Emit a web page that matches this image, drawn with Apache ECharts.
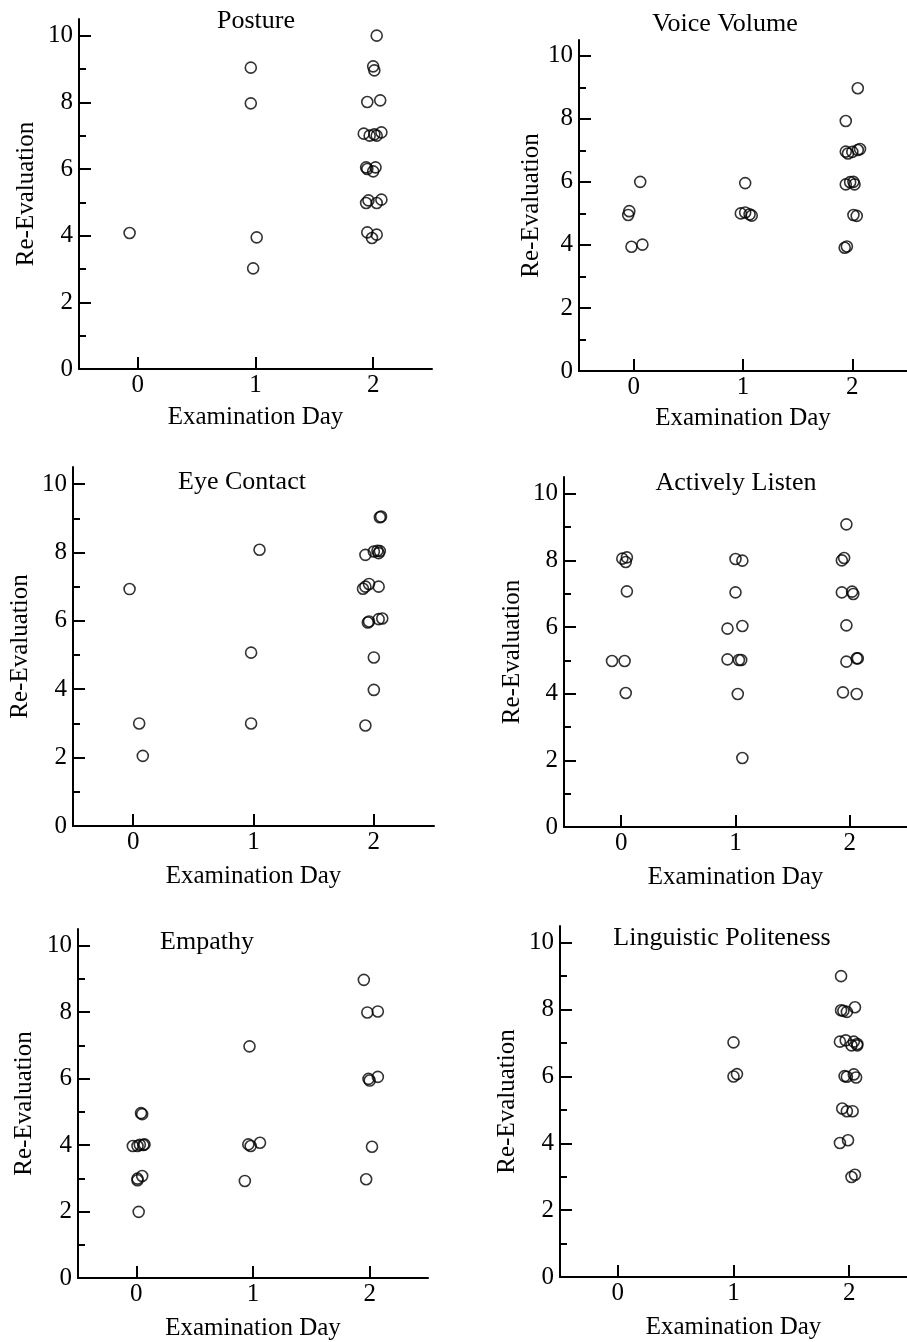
<!DOCTYPE html>
<html>
<head>
<meta charset="utf-8">
<script src="https://cdn.jsdelivr.net/npm/echarts@6/dist/echarts.min.js"></script>
<style>
html,body{margin:0;padding:0;background:#fff;}
#chart{width:907px;height:1342px;}
</style>
</head>
<body>
<div id="chart"></div>
<script>
// ---- data (x = examination day with jitter, y = re-evaluation score) ----
const panelTitles = ['Posture','Voice Volume','Eye Contact','Actively Listen','Empathy','Linguistic Politeness'];
const xTicks = [0, 1, 2];
const yMajorTicks = [0, 2, 4, 6, 8, 10];
const yMinorTicks = [1, 3, 5, 7, 9];
const xAxisTitle = 'Examination Day';
const yAxisTitle = 'Re-Evaluation';

const posture = [
  [-0.07,4.08],
  [0.96,9.04],[0.96,7.97],[1.01,3.95],[0.98,3.02],
  [2.03,10.0],[2.0,9.08],[2.01,8.96],[1.95,8.01],[2.06,8.06],
  [1.92,7.06],[1.97,7.0],[2.01,7.04],[2.03,7.0],[2.07,7.1],
  [1.94,6.05],[1.95,6.0],[2.0,5.93],[2.02,6.05],
  [1.94,4.98],[1.96,5.06],[2.03,4.98],[2.07,5.08],
  [1.95,4.1],[1.99,3.93],[2.03,4.03]
];
const voiceVolume = [
  [0.06,6.0],[-0.04,5.07],[-0.05,4.95],[-0.02,3.94],[0.08,4.01],
  [1.02,5.96],[0.98,5.0],[1.02,5.03],[1.06,4.97],[1.08,4.93],
  [2.05,8.97],[1.94,7.93],[1.94,6.96],[1.96,6.9],[2.0,6.95],[2.05,7.01],[2.07,7.04],
  [1.94,5.92],[1.98,5.99],[2.01,6.0],[2.02,5.92],
  [2.01,4.95],[2.04,4.92],
  [1.93,3.91],[1.95,3.95]
];
const eyeContact = [
  [-0.03,6.93],[0.05,3.0],[0.08,2.05],
  [1.05,8.08],[0.98,5.07],[0.98,3.0],
  [2.06,9.05],[2.05,9.03],
  [1.93,7.93],[2.0,8.03],[2.03,8.05],[2.04,7.98],[2.05,8.04],
  [1.91,6.94],[1.93,7.0],[1.96,7.08],[2.04,7.0],
  [1.95,5.95],[1.96,5.98],[2.04,6.05],[2.07,6.07],
  [2.0,4.93],[2.0,3.98],[1.93,2.94]
];
const activelyListen = [
  [0.01,8.05],[0.05,8.09],[0.04,7.95],[0.05,7.07],[-0.08,4.98],[0.03,4.98],[0.04,4.02],
  [1.0,8.04],[1.06,7.99],[1.0,7.04],[0.93,5.95],[1.06,6.03],[0.93,5.03],[1.03,5.01],[1.05,5.01],[1.02,3.99],[1.06,2.07],
  [1.97,9.08],[1.93,8.0],[1.95,8.07],[1.93,7.04],[2.02,7.06],[2.03,6.99],[1.97,6.05],[1.97,4.96],[2.06,5.06],[2.07,5.06],[1.94,4.04],[2.06,3.99]
];
const empathy = [
  [0.04,4.96],[0.05,4.93],[-0.03,3.97],[0.01,3.97],[0.03,4.01],[0.06,4.0],[0.07,4.02],[0.01,2.99],[0.01,2.94],[0.05,3.07],[0.02,1.99],
  [0.97,6.97],[0.96,4.02],[0.98,3.97],[1.06,4.07],[0.93,2.92],
  [1.95,8.97],[1.98,7.99],[2.07,8.02],[1.99,5.99],[2.0,5.94],[2.07,6.05],[2.02,3.95],[1.97,2.97]
];
const linguisticPoliteness = [
  [1.0,7.02],[1.0,6.0],[1.03,6.07],
  [1.93,9.0],[1.93,7.98],[1.95,7.96],[1.98,7.93],[2.05,8.07],
  [1.92,7.04],[1.97,7.08],[2.02,6.93],[2.04,7.04],[2.07,6.97],[2.07,6.93],
  [1.96,6.01],[1.98,5.99],[2.04,6.06],[2.06,5.97],
  [1.94,5.04],[1.98,4.96],[2.03,4.96],
  [1.92,4.01],[1.99,4.09],
  [2.02,2.99],[2.05,3.06]
];
const panelData = [posture, voiceVolume, eyeContact, activelyListen, empathy, linguisticPoliteness];

// ---- layout ----
const FONT = '"Liberation Serif", "Times New Roman", serif';
const layout = [
  {left:79,  top:19,  width:353, height:350, tx:256, ty:21,  yGap:40, xGap:36},
  {left:579, top:40,  width:333, height:331, tx:725, ty:24,  yGap:34, xGap:35},
  {left:73,  top:467, width:361, height:359, tx:242, ty:482, yGap:40, xGap:38},
  {left:564, top:477, width:351, height:350, tx:736, ty:483, yGap:39, xGap:38},
  {left:78,  top:929, width:350, height:350, tx:207, ty:942, yGap:41, xGap:38},
  {left:560, top:926, width:351, height:351, tx:722, ty:938, yGap:40, xGap:38}
];

const grids = [], xAxes = [], yAxes = [], series = [], graphics = [];
const lineStyle = {color:'#000', width:2};
const labelStyle = {color:'#000', fontFamily:FONT, fontSize:25};

layout.forEach((L, i) => {
  grids.push({left:L.left, top:L.top, width:L.width, height:L.height, containLabel:false});
  xAxes.push({
    type:'value', gridIndex:i, min:-0.5, max:2.5, position:'bottom',
    name:xAxisTitle, nameLocation:'middle', nameGap:L.xGap,
    nameTextStyle:{color:'#000', fontFamily:FONT, fontSize:25},
    axisLine:{show:true, onZero:false, lineStyle},
    axisTick:{show:true, inside:true, length:12, customValues:xTicks, lineStyle},
    axisLabel:{show:true, margin:4, customValues:xTicks, ...labelStyle},
    splitLine:{show:false}
  });
  // main y axis
  yAxes.push({
    type:'value', gridIndex:i, min:0, max:10.5, position:'left',
    name:yAxisTitle, nameLocation:'middle', nameGap:L.yGap,
    nameTextStyle:{color:'#000', fontFamily:FONT, fontSize:25},
    axisLine:{show:true, onZero:false, lineStyle},
    axisTick:{show:true, inside:true, length:12, customValues:yMajorTicks, lineStyle},
    axisLabel:{show:true, margin:6, customValues:yMajorTicks, ...labelStyle},
    splitLine:{show:false}
  });
  // overlay y axis for minor ticks
  yAxes.push({
    type:'value', gridIndex:i, min:0, max:10.5, position:'left', offset:0,
    axisLine:{show:false, onZero:false},
    axisTick:{show:true, inside:true, length:7, customValues:yMinorTicks, lineStyle},
    axisLabel:{show:false},
    splitLine:{show:false}
  });
  series.push({
    type:'scatter', xAxisIndex:i, yAxisIndex:2*i,
    data:panelData[i], symbol:'circle', symbolSize:11,
    itemStyle:{color:'rgba(0,0,0,0)', borderColor:'#000', borderWidth:1.6},
    emphasis:{disabled:true}, silent:true, animation:false
  });
  graphics.push({
    type:'text', x:L.tx, y:L.ty,
    style:{text:panelTitles[i], fill:'#000', fontFamily:FONT, fontSize:26, align:'center', verticalAlign:'middle'}
  });
});

const chart = echarts.init(document.getElementById('chart'), null, {renderer:'canvas'});
chart.setOption({
  backgroundColor:'#fff',
  animation:false,
  grid:grids, xAxis:xAxes, yAxis:yAxes, series:series,
  graphic:graphics
});
</script>
</body>
</html>
